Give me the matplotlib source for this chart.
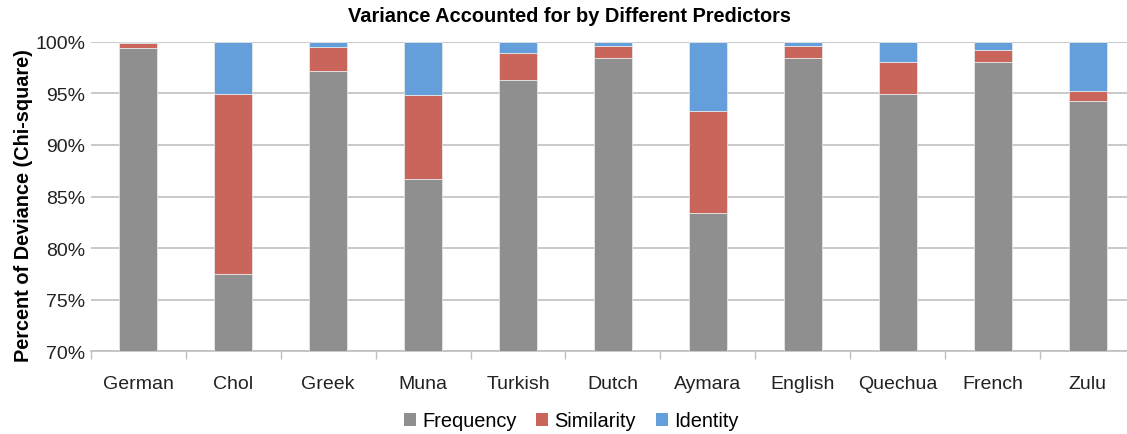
import matplotlib
matplotlib.use("Agg")
import matplotlib.pyplot as plt
from matplotlib.patches import Patch
import numpy as np

plt.rcParams['font.family'] = ['Liberation Sans', 'DejaVu Sans']

languages = ["German", "Chol", "Greek", "Muna", "Turkish", "Dutch",
             "Aymara", "English", "Quechua", "French", "Zulu"]
frequency = [99.35, 77.5, 97.15, 86.7, 96.3, 98.4, 83.4, 98.4, 94.95, 98.05, 94.3]
similarity = [0.55, 17.45, 2.3, 8.15, 2.65, 1.2, 9.9, 1.2, 3.05, 1.1, 0.95]
identity = [0.10, 5.05, 0.55, 5.15, 1.05, 0.4, 6.7, 0.4, 2.0, 0.85, 4.75]
series_names = ["Frequency", "Similarity", "Identity"]
colors = ["#8F8F8F", "#CA655B", "#659FDB"]
yticks = [70, 75, 80, 85, 90, 95, 100]

fig = plt.figure(figsize=(11.27, 4.35), dpi=100)
ax = fig.add_axes([90.7 / 1127, 1 - 352.3 / 435, 1044.5 / 1127, 309.6 / 435])

x = np.arange(len(languages))
bottom = np.zeros(len(languages))
for vals, c in zip([frequency, similarity, identity], colors):
    ax.bar(x, vals, width=0.4, bottom=bottom, color=c, zorder=3,
           edgecolor="#E6E6E6", linewidth=0.6)
    bottom += np.array(vals)

ax.set_ylim(70, 100)
ax.set_xlim(-0.5, len(languages) - 0.5)
ax.set_yticks(yticks)
ax.set_yticklabels([f"{v}%" for v in yticks], fontsize=14, color="#222222")
ax.tick_params(axis="y", length=0, pad=4)
ax.set_xticks(x)
ax.set_xticklabels(languages, fontsize=14, color="#222222")
ax.tick_params(axis="x", which="major", length=0, pad=17)
ax.set_xticks(np.arange(-0.5, len(languages), 1.0), minor=True)
ax.tick_params(axis="x", which="minor", length=6, color="#BFBFBF", width=1)
ax.yaxis.grid(True, color="#C0C0C0", linewidth=1.2, zorder=0)
for s in ["top", "right", "left"]:
    ax.spines[s].set_visible(False)
ax.spines["bottom"].set_color("#BFBFBF")
ax.spines["bottom"].set_linewidth(1.2)

fig.text(24 / 1127, 1 - 206 / 435, "Percent of Deviance (Chi-square)", rotation=90,
         ha="center", va="center", fontsize=14.3, fontweight="bold")

fig.text(570 / 1127, 1 - 17 / 435, "Variance Accounted for by Different Predictors",
         ha="center", va="center", fontsize=14.4, fontweight="bold")

handles = [Patch(facecolor=c, edgecolor="none") for c in colors]
fig.legend(handles, series_names, loc="center", bbox_to_anchor=(571 / 1127, 1 - 422 / 435),
           ncol=3, frameon=False, fontsize=14.4, handlelength=0.6, handleheight=0.6,
           handletextpad=0.3, columnspacing=1.0)

fig.savefig("out.png", dpi=100)
